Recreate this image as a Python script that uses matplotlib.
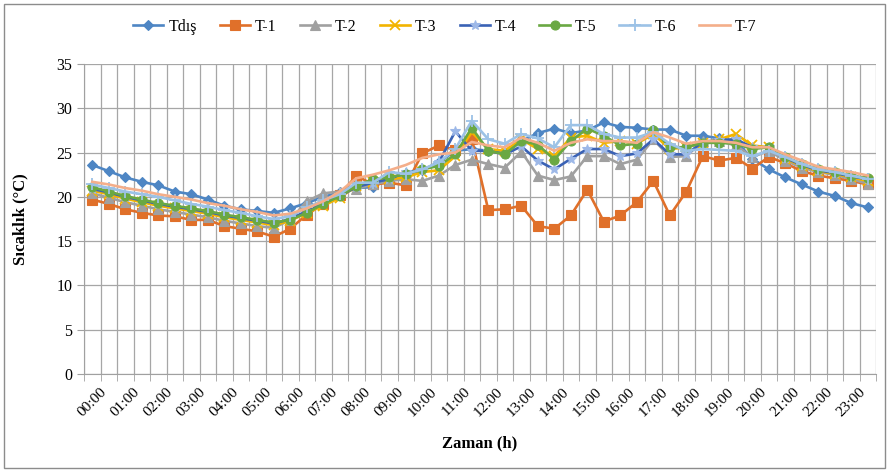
import numpy as np
import matplotlib
matplotlib.use("Agg")
import matplotlib.pyplot as plt
import matplotlib.transforms as mtransforms
from matplotlib.patches import Rectangle

plt.rcParams['font.family'] = ['Liberation Serif', 'DejaVu Serif']

# half-hour steps, 00:00 .. 23:30
hours = ["%02d:00" % h for h in range(24)]

tdis = [23.6, 22.9, 22.2, 21.7, 21.3, 20.6, 20.3, 19.7, 19.0, 18.6, 18.4, 18.2,
        18.7, 19.3, 20.0, 20.5, 21.0, 21.1, 22.0, 22.4, 23.0, 23.9, 25.2, 25.4,
        25.2, 25.0, 26.3, 27.2, 27.7, 27.2, 27.5, 28.4, 27.9, 27.8, 27.6, 27.6,
        26.9, 26.9, 26.6, 26.3, 24.3, 23.1, 22.2, 21.4, 20.6, 20.1, 19.3, 18.8]
t1 = [19.7, 19.2, 18.6, 18.2, 17.9, 17.8, 17.4, 17.4, 16.7, 16.4, 16.1, 15.5,
      16.4, 18.0, 19.2, 20.2, 22.4, 21.4, 21.6, 21.3, 24.9, 25.8, 25.3, 26.5,
      18.5, 18.6, 19.0, 16.7, 16.4, 17.9, 20.8, 17.2, 17.9, 19.4, 21.8, 17.9,
      20.6, 24.6, 24.1, 24.4, 23.2, 24.5, 23.8, 22.9, 22.4, 22.1, 21.8, 21.4]
t2 = [20.4, 19.9, 19.4, 19.0, 18.6, 18.3, 18.0, 17.7, 17.3, 17.0, 16.7, 16.5,
      17.4, 19.5, 20.4, 20.6, 20.9, 21.4, 21.8, 22.0, 21.8, 22.4, 23.6, 24.2,
      23.7, 23.3, 25.1, 22.4, 21.9, 22.3, 24.6, 24.6, 23.7, 24.2, 26.5, 24.5,
      24.6, 26.3, 26.3, 25.8, 24.5, 25.2, 24.1, 23.3, 22.8, 22.5, 22.0, 21.5]
t3 = [20.7, 20.3, 19.8, 19.4, 19.0, 18.7, 18.4, 18.1, 17.7, 17.4, 17.1, 16.8,
      17.3, 18.2, 19.0, 19.9, 21.2, 21.7, 22.0, 22.2, 22.8, 23.0, 24.6, 27.3,
      25.4, 25.2, 26.5, 25.4, 24.6, 26.7, 26.9, 26.1, 26.3, 26.0, 27.1, 25.4,
      25.6, 26.1, 26.5, 27.1, 25.8, 25.6, 24.3, 23.5, 22.9, 22.6, 22.2, 21.8]
t4 = [20.9, 20.5, 20.0, 19.6, 19.2, 18.9, 18.6, 18.3, 17.9, 17.6, 17.3, 17.0,
      17.5, 18.4, 19.3, 20.1, 21.1, 21.6, 22.0, 22.8, 23.0, 23.9, 27.4, 25.2,
      25.2, 24.8, 25.7, 24.1, 23.1, 24.3, 25.4, 25.4, 24.6, 24.9, 26.5, 24.8,
      24.8, 26.2, 26.4, 26.5, 25.6, 25.6, 24.4, 23.6, 23.0, 22.7, 22.3, 22.0]
t5 = [21.1, 20.6, 20.1, 19.7, 19.3, 19.0, 18.7, 18.4, 18.0, 17.7, 17.4, 17.1,
      17.4, 18.2, 19.2, 20.1, 21.2, 22.0, 22.2, 22.6, 23.1, 23.5, 24.8, 27.8,
      25.2, 24.8, 26.3, 25.9, 24.2, 26.3, 27.7, 26.9, 25.8, 26.0, 27.6, 25.6,
      25.6, 26.1, 26.1, 26.0, 25.4, 25.6, 24.5, 23.7, 23.1, 22.8, 22.4, 22.1]
t6 = [21.4, 21.0, 20.6, 20.3, 20.0, 19.6, 19.2, 18.9, 18.5, 18.2, 17.8, 17.5,
      17.8, 18.8, 19.6, 20.3, 21.6, 21.6, 22.8, 22.6, 23.1, 23.9, 25.4, 28.6,
      26.5, 26.0, 27.1, 26.6, 25.6, 28.1, 28.1, 27.1, 26.7, 26.7, 27.3, 26.0,
      25.2, 25.4, 25.3, 25.2, 24.6, 25.2, 24.5, 23.7, 23.1, 22.8, 22.4, 22.0]
t7 = [21.7, 21.4, 21.0, 20.7, 20.3, 20.0, 19.7, 19.3, 19.0, 18.6, 18.3, 17.9,
      18.1, 18.7, 19.5, 20.6, 22.1, 22.5, 23.0, 23.6, 24.4, 24.8, 25.0, 26.2,
      25.8, 25.6, 26.7, 26.1, 25.2, 26.1, 26.5, 26.3, 26.3, 26.1, 27.3, 26.7,
      26.0, 26.3, 26.3, 26.1, 25.6, 25.6, 24.8, 24.1, 23.4, 23.1, 22.8, 22.4]

names = ["Tdış", "T-1", "T-2", "T-3", "T-4", "T-5", "T-6", "T-7"]
series = [tdis, t1, t2, t3, t4, t5, t6, t7]

# line colour, marker, marker size, marker face
styles = [
    ("#4E86C4", "D", 5.5, "#4E86C4"),
    ("#E0702A", "s", 6.5, "#E0702A"),
    ("#A0A0A0", "^", 6.5, "#A0A0A0"),
    ("#F2B400", "x", 6.5, "#F2B400"),
    ("#3A62B5", "*", 7.5, "#9DB8E8"),
    ("#6AA843", "o", 6.5, "#6AA843"),
    ("#9CC2E6", "+", 8, "#9CC2E6"),
    ("#F4AE8A", None, 0, "#F4AE8A"),
]

fig = plt.figure(figsize=(8.89, 4.72), dpi=100)
ax = fig.add_axes([0.0945, 0.2076, 0.891, 0.6568])

x = np.arange(len(tdis))
for name, vals, (col, mk, ms, mfc) in zip(names, series, styles):
    ax.plot(x, vals, color=col, lw=1.9, marker=mk, markersize=ms,
            markerfacecolor=mfc, markeredgecolor=mfc,
            markeredgewidth=1.3 if mk in ("x", "+") else 0.8, label=name, zorder=3)

ax.set_xlim(-0.5, len(tdis) - 0.5)
ax.set_ylim(0, 35)
ax.set_yticks(range(0, 36, 5))
ax.set_xticks(np.arange(0, len(tdis), 2))
ax.set_xticklabels(hours, rotation=45, ha="right", rotation_mode="anchor")
ax.set_xticks(np.arange(-0.5, len(tdis), 1), minor=True)
ax.tick_params(axis="x", which="major", length=0, pad=8, labelsize=11)
ax.tick_params(axis="x", which="minor", length=5, color="#A0A0A0", direction="out")
ax.tick_params(axis="y", length=5, color="#A0A0A0", labelsize=11.5)

# nudge the rotated labels to the right, like the original
shift = mtransforms.ScaledTranslation(0.08, 0, fig.dpi_scale_trans)
for lab in ax.get_xticklabels():
    lab.set_transform(lab.get_transform() + shift)

ax.grid(True, axis="y", color="#A6A6A6", lw=0.9)
ax.grid(True, axis="x", which="minor", color="#A6A6A6", lw=0.9)
ax.set_axisbelow(True)
for s in ["top", "right"]:
    ax.spines[s].set_visible(False)
for s in ["left", "bottom"]:
    ax.spines[s].set_color("#A0A0A0")

ax.set_xlabel("Zaman (h)", fontsize=12, fontweight="bold", labelpad=12)
ax.set_ylabel("Sıcaklık (°C)", fontsize=12, fontweight="bold", labelpad=20)

fig.legend(loc="center", bbox_to_anchor=(0.5, 0.943), ncol=8, frameon=False,
           fontsize=11.5, handlelength=1.9, columnspacing=1.45, handletextpad=0.3,
           numpoints=1)

fig.patches.append(Rectangle((0.004, 0.008), 0.991, 0.983, transform=fig.transFigure,
                             fill=False, edgecolor="#8C8C8C", lw=1))

fig.savefig("out.png", dpi=100)
